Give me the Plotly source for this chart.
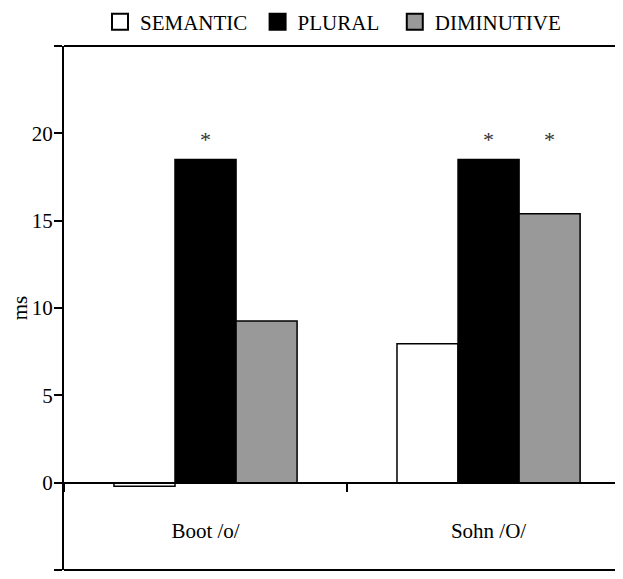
import plotly.graph_objects as go

categories = ["Boot /o/", "Sohn /O/"]
series_names = ["SEMANTIC", "PLURAL", "DIMINUTIVE"]
semantic = [-0.2, 7.95]
plural = [18.5, 18.5]
diminutive = [9.25, 15.4]
stars_semantic = ["", ""]
stars_plural = ["*", "*"]
stars_diminutive = ["", "*"]
star_level = [19.55, 19.55]
y_tickvals = [-5, 0, 5, 10, 15, 20, 25]
y_ticktext = ["-5", "0", "5", "10", "15", "20", ""]

colors = ["#ffffff", "#000000", "#999999"]
FONT = "Liberation Serif, Times New Roman, serif"
FS = 21
NBSP = "\u00a0"

fig = go.Figure()
values = [semantic, plural, diminutive]
stars = [stars_semantic, stars_plural, stars_diminutive]

for name, vals, col in zip(series_names, values, colors):
    fig.add_trace(go.Bar(
        x=categories, y=vals, name=name, offsetgroup=name,
        marker=dict(color=col, line=dict(color="black", width=1.5)),
        showlegend=False,
    ))

for name, st in zip(series_names, stars):
    fig.add_trace(go.Scatter(
        x=categories, y=star_level, mode="text", text=st, offsetgroup=name,
        textposition="middle center",
        textfont=dict(family=FONT, size=22, color="#333"),
        showlegend=False, hoverinfo="skip", cliponaxis=False,
    ))

# legend entries (wider spacing between entries, like the original)
legend_pad = [NBSP, NBSP * 2, ""]
for name, col, pad in zip(series_names, colors, legend_pad):
    fig.add_trace(go.Scatter(
        x=[None], y=[None], mode="markers", name=name + pad,
        marker=dict(symbol="square", size=16, color=col,
                    line=dict(color="black", width=2)),
    ))

# page body has an 8px default margin, so the figure is sized to fill the rest
W, H = 615, 571
fig.update_layout(
    width=W, height=H,
    margin=dict(l=56, r=0, t=38, b=9, autoexpand=False),
    paper_bgcolor="white", plot_bgcolor="white",
    font=dict(family=FONT, size=FS, color="black"),
    barmode="group", bargap=0.353, bargroupgap=0,
    scattermode="group", scattergap=0.353,
    legend=dict(orientation="h", x=(100 - 64) / 559, xanchor="left",
                yref="container", y=1 - 14 / H, yanchor="middle",
                font=dict(family=FONT, size=FS, color="black"),
                bgcolor="rgba(0,0,0,0)", itemclick=False),
    showlegend=True,
    xaxis=dict(
        type="category", range=[-0.5, 1.475],
        anchor="free", position=5 / 30, automargin=False,
        showline=True, linecolor="black", linewidth=2,
        ticks="outside", tickson="boundaries", ticklen=8, tickwidth=2,
        tickcolor="black", showgrid=False, zeroline=False,
        ticklabelstandoff=29,
        tickfont=dict(family=FONT, size=FS, color="black"),
    ),
    yaxis=dict(
        range=[-5, 25], tickvals=y_tickvals, ticktext=y_ticktext,
        automargin=False,
        showline=True, linecolor="black", linewidth=2,
        ticks="outside", ticklen=8, tickwidth=2, tickcolor="black",
        showgrid=False, zeroline=False, ticklabelstandoff=-3,
        tickfont=dict(family=FONT, size=FS, color="black"),
        title=dict(text="ms", standoff=7,
                   font=dict(family=FONT, size=FS, color="black")),
    ),
    shapes=[
        dict(type="line", xref="paper", yref="paper", x0=0, x1=1, y0=1, y1=1,
             line=dict(color="black", width=2)),
        dict(type="line", xref="paper", yref="paper", x0=0, x1=1, y0=0, y1=0,
             line=dict(color="black", width=2)),
    ],
)

fig.write_html("out.html")
